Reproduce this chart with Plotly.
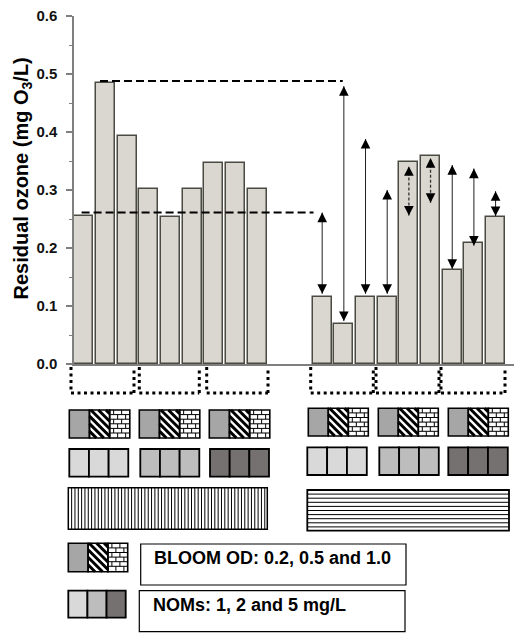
import plotly.graph_objects as go

# ---------------- data ----------------
group1_vals = [0.255, 0.485, 0.393, 0.301, 0.254, 0.301, 0.346, 0.346, 0.301]
group2_vals = [0.116, 0.069, 0.116, 0.116, 0.349, 0.358, 0.162, 0.209, 0.254]
group1_pos = [0, 1, 2, 3, 4, 5, 6, 7, 8]
group2_pos = [11, 12, 13, 14, 15, 16, 17, 18, 19]

# double arrows (upper / lower end values) over group-2 bars
arrow_hi = [0.261, 0.479, 0.388, 0.300, 0.341, 0.355, 0.343, 0.337, 0.298]
arrow_lo = [0.121, 0.074, 0.121, 0.121, 0.256, 0.278, 0.164, 0.204, 0.255]
arrow_dashed = [False, False, False, False, True, True, False, False, False]

# dashed reference levels
ref_levels = [0.261, 0.488]
ref_x_start = [-0.1, 0.75]
ref_x_end = [10.6, 11.95]

y_ticks = [0.0, 0.1, 0.2, 0.3, 0.4, 0.5, 0.6]
y_ticktext = ["0.0", "0.1", "0.2", "0.3", "0.4", "0.5", "0.6"]

legend_texts = ["BLOOM OD: 0.2, 0.5 and 1.0", "NOMs: 1, 2 and 5 mg/L"]
nom_colors = ["#d9d9d9", "#bdbdbd", "#767171"]
bloom_gray = "#a6a6a6"

FONT = "Liberation Sans"
W, H = 514, 635
L, T, PW, PH = 74, 16, 440, 348


def px(x):
    return (x - L) / PW


def py(y):
    return (T + PH - y) / PH


fig = go.Figure()

fig.add_trace(go.Bar(
    x=group1_pos + group2_pos, y=group1_vals + group2_vals, width=0.88,
    marker=dict(color="#d9d7cf", line=dict(color="#4a4a42", width=1.5)),
    showlegend=False, hoverinfo="skip"))

# dashed reference lines
for lv, xs, xe in zip(ref_levels, ref_x_start, ref_x_end):
    fig.add_trace(go.Scatter(x=[xs, xe], y=[lv, lv], mode="lines",
                             line=dict(color="black", width=2, dash="8px,4px"),
                             showlegend=False, hoverinfo="skip"))

# arrow shafts
for dashed in (False, True):
    xs, ys = [], []
    for p, hi, lo, d in zip(group2_pos, arrow_hi, arrow_lo, arrow_dashed):
        if d == dashed:
            xs += [p, p, None]
            ys += [lo, hi, None]
    fig.add_trace(go.Scatter(x=xs, y=ys, mode="lines",
                             line=dict(color="#222" if not dashed else "#333",
                                       width=1 if not dashed else 1.3,
                                       dash="3px,2px" if dashed else "solid"),
                             showlegend=False, hoverinfo="skip"))

annotations = []
for p, hi, lo in zip(group2_pos, arrow_hi, arrow_lo):
    for yv, ay in ((hi, 9), (lo, -9)):
        annotations.append(dict(x=p, y=yv, xref="x", yref="y", ax=0, ay=ay,
                                text="", showarrow=True, arrowhead=2,
                                arrowsize=1.6, arrowwidth=1.2,
                                arrowcolor="black", standoff=0))

shapes = []


def seg_path(segs):
    return "".join(f"M{px(a):.5f},{py(b):.5f}L{px(c):.5f},{py(d):.5f}"
                   for (a, b), (c, d) in segs)


def add_rect(x0, y0, x1, y1, fill="rgba(0,0,0,0)", lw=1.5, lc="black"):
    shapes.append(dict(type="rect", xref="paper", yref="paper",
                       x0=px(x0), x1=px(x1), y0=py(y1), y1=py(y0),
                       fillcolor=fill, line=dict(color=lc, width=lw),
                       layer="above"))


def add_segs(segs, lw=1, color="black", dash=None):
    if not segs:
        return
    ln = dict(color=color, width=lw)
    if dash:
        ln["dash"] = dash
    shapes.append(dict(type="path", xref="paper", yref="paper",
                       path=seg_path(segs), line=ln, layer="above"))


def stripes(x0, y0, x1, y1, period=7.5):
    segs = []
    c = y0 - x1 + period / 2
    while c < y1 - x0:
        xs = max(x0, y0 - c)
        xe = min(x1, y1 - c)
        if xe > xs:
            segs.append(((xs, xs + c), (xe, xe + c)))
        c += period
    return segs


def bricks(x0, y0, x1, y1, bh=4.6, bw=8.0):
    segs = []
    y = y0 + bh
    while y < y1 - 0.8:
        segs.append(((x0, y), (x1, y)))
        y += bh
    row = 0
    yy = y0
    while yy < y1 - 0.5:
        ye = min(yy + bh, y1)
        x = x0 + (bw / 2 if row % 2 == 0 else bw)
        while x < x1 - 0.8:
            segs.append(((x, yy), (x, ye)))
            x += bw
        row += 1
        yy += bh
    return segs


def bloom_swatch(x0, y0, x1, y1):
    cw = (x1 - x0) / 3
    add_rect(x0, y0, x0 + cw, y1, fill=bloom_gray, lw=0)
    add_rect(x0 + cw, y0, x0 + 2 * cw, y1, fill="white", lw=0)
    add_rect(x0 + 2 * cw, y0, x1, y1, fill="white", lw=0)
    add_segs(stripes(x0 + cw, y0, x0 + 2 * cw, y1), lw=3)
    add_segs(bricks(x0 + 2 * cw, y0, x1, y1), lw=1)
    for i in range(3):
        add_rect(x0 + i * cw, y0, x0 + (i + 1) * cw, y1, lw=1.6)


def nom_swatch(x0, y0, x1, y1, colors):
    cw = (x1 - x0) / 3
    for i in range(3):
        add_rect(x0 + i * cw, y0, x0 + (i + 1) * cw, y1, fill=colors[i], lw=1.8)


# dotted brackets under bars
brackets = [(71, 134), (139.3, 199.3), (206.7, 268),
            (310.7, 373.3), (376, 439), (441, 505)]
bsegs = []
for a, b in brackets:
    bsegs += [((a, 367), (a, 393)), ((a, 393), (b, 393)), ((b, 393), (b, 367))]
add_segs(bsegs, lw=3, dash="3px,3.5px")

# bloom swatches
for x0 in (69.3, 139.3, 209.3):
    bloom_swatch(x0, 410, x0 + 60.5, 438)
for x0 in (308.3, 378.3, 448.3):
    bloom_swatch(x0, 408.3, x0 + 60, 436)

# NOM swatches
for x0, c in zip((69.3, 140.3, 210), nom_colors):
    nom_swatch(x0, 449, x0 + 59, 476.7, [c, c, c])
for x0, c in zip((307.3, 379.3, 448.3), nom_colors):
    nom_swatch(x0, 447.3, x0 + 59.5, 475, [c, c, c])

# vertical-line pattern rect
vx0, vy0, vx1, vy1 = 68.3, 487.7, 267.3, 529.3
vs = []
x = vx0 + 3.33
while x < vx1 - 1:
    vs.append(((x, vy0), (x, vy1)))
    x += 3.33
add_rect(vx0, vy0, vx1, vy1, fill="white", lw=0)
add_segs(vs, lw=1)
add_rect(vx0, vy0, vx1, vy1, lw=1.5)

# horizontal-line pattern rect
hx0, hy0, hx1, hy1 = 307.3, 490, 509, 530.7
hs = []
y = hy0 + 4.1
while y < hy1 - 1:
    hs.append(((hx0, y), (hx1, y)))
    y += 4.1
add_rect(hx0, hy0, hx1, hy1, fill="white", lw=0)
add_segs(hs, lw=1)
add_rect(hx0, hy0, hx1, hy1, lw=1.8)

# legend
bloom_swatch(68.3, 543.3, 127.7, 571.7)
add_rect(140.7, 544, 406, 585, lw=1.2)
nom_swatch(68.3, 590.7, 125.7, 617.7, nom_colors)
add_rect(139.3, 590.7, 405, 631.7, lw=1.2)

for txt, xx, yy in zip(legend_texts, (151.7, 150.7), (557.5, 605)):
    annotations.append(dict(text=txt, xref="paper", yref="paper",
                            x=px(xx), y=py(yy), xanchor="left", yanchor="middle",
                            showarrow=False,
                            font=dict(family=FONT, size=18, color="black",
                                      weight="bold")))

# y axis title
annotations.append(dict(text="Residual ozone (mg O<sub>3</sub>/L)",
                        xref="paper", yref="paper", x=px(22), y=py(178.5),
                        xanchor="center", yanchor="middle", textangle=-90,
                        showarrow=False,
                        font=dict(family=FONT, size=20, color="black",
                                  weight="bold")))

fig.update_layout(
    width=W, height=H,
    margin=dict(l=L, r=W - L - PW, t=T, b=H - T - PH),
    paper_bgcolor="white", plot_bgcolor="white",
    showlegend=False, bargap=0,
    shapes=shapes, annotations=annotations,
    xaxis=dict(range=[-0.45, 19.85], showgrid=False, zeroline=False,
               showticklabels=False, ticks="", showline=True,
               linecolor="#7f7f7f", linewidth=2),
    yaxis=dict(range=[0, 0.6], tickvals=y_ticks, ticktext=y_ticktext,
               showgrid=False, zeroline=False, showline=True,
               linecolor="#7f7f7f", linewidth=1.5,
               ticks="outside", ticklen=6, tickwidth=1.5, tickcolor="#7f7f7f",
               minor=dict(dtick=0.05, ticks="outside", ticklen=3,
                          tickwidth=1.2, tickcolor="#7f7f7f"),
               ticklabelstandoff=6,
               tickfont=dict(family=FONT, size=15, color="#111",
                             weight="bold")),
)

fig.write_html("out.html")
